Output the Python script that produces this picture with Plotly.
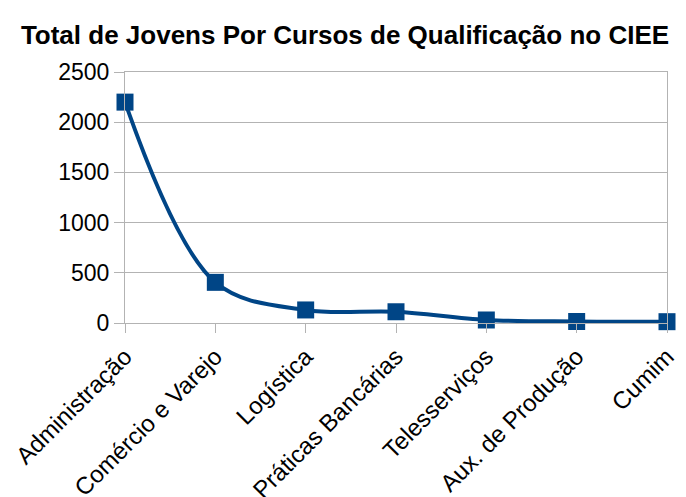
import plotly.graph_objects as go

categories = ["Administração", "Comércio e Varejo", "Logística", "Práticas Bancárias",
              "Telesserviços", "Aux. de Produção", "Cumim"]
values = [2200, 405, 130, 112, 30, 15, 13]
y_ticks = [0, 500, 1000, 1500, 2000, 2500]

color = "#004586"

fig = go.Figure(go.Scatter(
    x=categories, y=values, mode="lines+markers",
    line=dict(color=color, width=4, shape="spline", smoothing=1.0),
    marker=dict(symbol="square", size=17, color=color),
    cliponaxis=False,
))

W, H = 678, 489
fig.update_layout(
    width=W, height=H,
    margin=dict(l=117, r=19, t=64, b=174),
    paper_bgcolor="white", plot_bgcolor="white",
    font=dict(family="Liberation Sans, Arial, sans-serif", color="black"),
    title=dict(text="<b>Total de Jovens Por Cursos de Qualificação no CIEE</b>",
               x=337 / W, xanchor="center", y=1 - 27 / H, yanchor="middle",
               font=dict(size=26, family="Liberation Sans, Arial, sans-serif")),
    showlegend=False,
)
fig.update_xaxes(
    type="category", range=[0, 6], automargin=False,
    showgrid=False, showline=True, linecolor="#b3b3b3", linewidth=1, mirror=True,
    ticks="outside", ticklen=9, tickcolor="#b3b3b3",
    tickangle=-45, tickfont=dict(size=24),
)
fig.update_yaxes(
    range=[0, 2500], tickvals=y_ticks, automargin=False,
    showgrid=True, gridcolor="#b3b3b3", gridwidth=1,
    showline=True, linecolor="#b3b3b3", linewidth=1, mirror=True,
    ticks="outside", ticklen=10, tickcolor="#b3b3b3",
    zeroline=False, tickfont=dict(size=23),
)

fig.write_html("out.html")
